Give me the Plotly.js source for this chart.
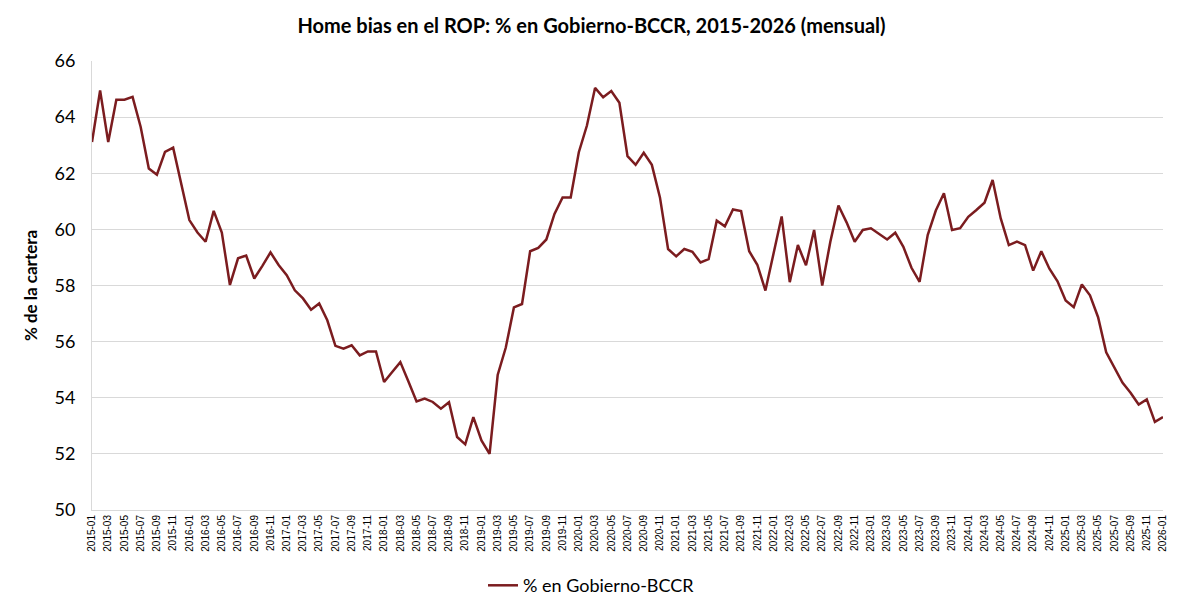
<!DOCTYPE html>
<html>
<head>
<meta charset="utf-8">
<script src="https://cdn.plot.ly/plotly-3.0.1.min.js"></script>
<style>
  html, body { margin: 0; padding: 0; background: #fff; }
  #chart { width: 1183px; height: 610px; }
</style>
</head>
<body>
<div id="chart"></div>
<script>
// meses 2015-01 .. 2026-01
const years = [2015, 2016, 2017, 2018, 2019, 2020, 2021, 2022, 2023, 2024, 2025, 2026];
const months = ['01', '02', '03', '04', '05', '06', '07', '08', '09', '10', '11', '12'];
const meses = [];
years.forEach(y => months.forEach(m => { if (y < 2026 || m === '01') meses.push(y + '-' + m); }));

// % de la cartera en Gobierno-BCCR
const gobierno = [
  63.11, 64.95, 63.11, 64.62, 64.62, 64.72, 63.65, 62.17, 61.95, 62.76, 62.91, 61.60,
  60.33, 59.89, 59.56, 60.66, 59.89, 58.02, 58.97, 59.07, 58.25, 58.70, 59.18, 58.73,
  58.37, 57.83, 57.54, 57.14, 57.36, 56.76, 55.85, 55.75, 55.87, 55.51, 55.65, 55.65,
  54.56, 54.92, 55.27, 54.58, 53.87, 53.97, 53.85, 53.61, 53.84, 52.60, 52.34, 53.31,
  52.48, 52.00, 54.81, 55.79, 57.22, 57.34, 59.22, 59.34, 59.64, 60.55, 61.14, 61.14,
  62.75, 63.70, 65.04, 64.71, 64.93, 64.51, 62.61, 62.30, 62.73, 62.30, 61.14, 59.30,
  59.04, 59.30, 59.20, 58.82, 58.94, 60.31, 60.11, 60.71, 60.65, 59.22, 58.74, 57.82,
  59.14, 60.46, 58.12, 59.44, 58.72, 59.98, 58.00, 59.56, 60.85, 60.25, 59.56, 59.98,
  60.04, 59.83, 59.64, 59.88, 59.38, 58.63, 58.13, 59.80, 60.67, 61.29, 59.98, 60.04,
  60.45, 60.69, 60.95, 61.76, 60.39, 59.44, 59.56, 59.44, 58.53, 59.22, 58.60, 58.15,
  57.47, 57.23, 58.04, 57.65, 56.87, 55.62, 55.08, 54.54, 54.18, 53.76, 53.94, 53.14,
  53.31
];

// etiquetas cada dos meses
const etiquetas = meses.filter((m, i) => i % 2 === 0);

const font = 'Lato, "Open Sans", sans-serif';

Plotly.newPlot('chart', [{
  x: meses,
  y: gobierno,
  type: 'scatter',
  mode: 'lines',
  name: '% en Gobierno-BCCR',
  line: { color: '#7b1c1f', width: 2.5 }
}], {
  width: 1183,
  height: 610,
  margin: { l: 92, r: 20, t: 61, b: 100 },
  paper_bgcolor: '#fff',
  plot_bgcolor: '#fff',
  font: { family: font, color: '#000' },
  title: {
    text: '<b>Home bias en el ROP: % en Gobierno-BCCR, 2015-2026 (mensual)</b>',
    x: 0.5, xanchor: 'center', y: 0.958, yanchor: 'middle',
    font: { size: 20, family: font, color: '#000' }
  },
  xaxis: {
    type: 'category',
    range: [0, meses.length - 1],
    tickmode: 'array',
    tickvals: etiquetas,
    ticktext: etiquetas,
    tickangle: -90,
    tickfont: { size: 10, family: 'Arial, "Liberation Sans", sans-serif', color: '#000' },
    showgrid: false,
    showline: true,
    linecolor: '#d9d9d9',
    linewidth: 1,
    ticks: '',
    zeroline: false,
    automargin: false
  },
  yaxis: {
    range: [50, 66],
    dtick: 2,
    tick0: 50,
    showgrid: true,
    gridcolor: '#d9d9d9',
    gridwidth: 1,
    showline: true,
    linecolor: '#d9d9d9',
    zeroline: false,
    ticks: '',
    ticklabelstandoff: 12,
    automargin: false,
    tickfont: { size: 18, family: font, color: '#000' },
    title: {
      text: '<b>% de la cartera</b>',
      standoff: 12,
      font: { size: 17, family: font, color: '#000' }
    }
  },
  showlegend: true,
  legend: {
    orientation: 'h',
    xref: 'container',
    x: 0.5, xanchor: 'center',
    yref: 'container',
    y: 0.04, yanchor: 'middle',
    font: { size: 18, family: font, color: '#000' }
  }
}, { displayModeBar: false });
</script>
</body>
</html>
